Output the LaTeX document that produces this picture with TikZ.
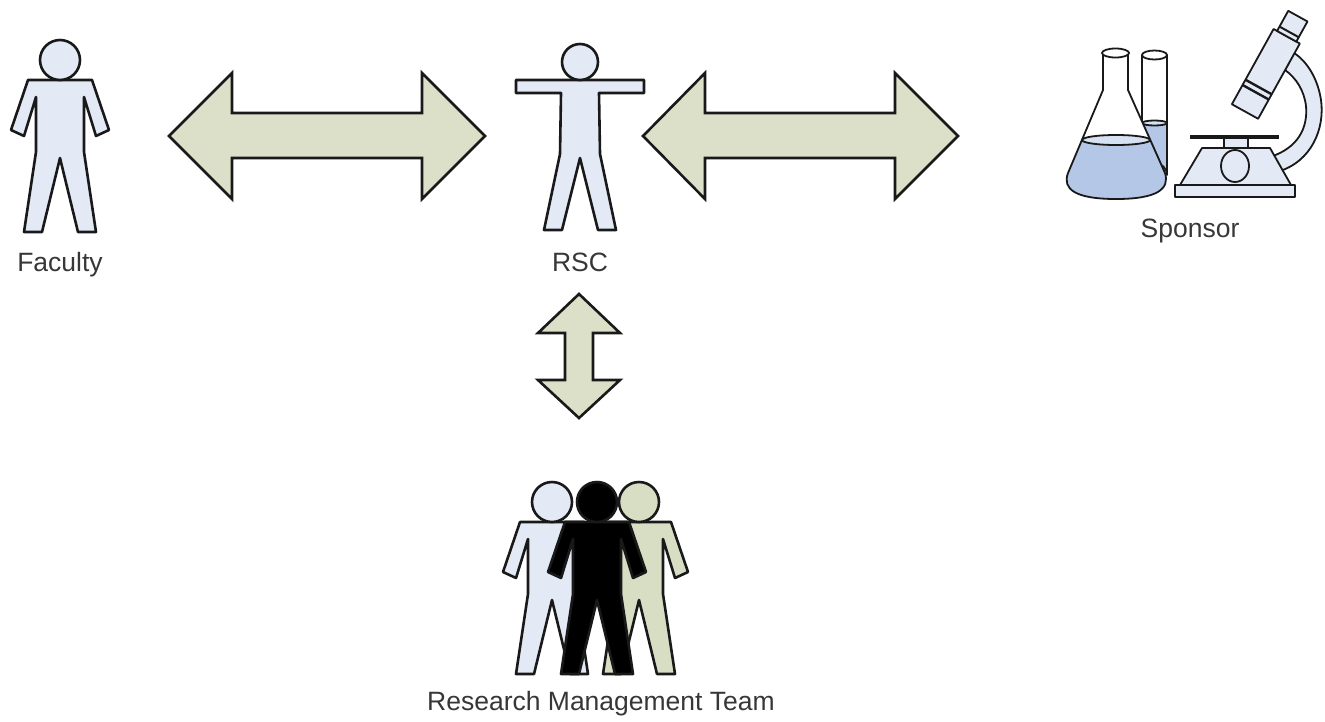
\documentclass[tikz,border=0pt]{standalone}
\usepackage{fontspec}
\setmainfont{Liberation Sans}
\begin{document}
\definecolor{figblue}{RGB}{227,234,246}
\definecolor{figgreen}{RGB}{216,222,196}
\definecolor{arrowfill}{RGB}{220,224,200}
\definecolor{liquid}{RGB}{180,199,230}
\definecolor{liquidtop}{RGB}{214,225,242}
\definecolor{outline}{RGB}{25,25,25}
\definecolor{labeltext}{RGB}{55,55,55}
\begin{tikzpicture}[x=1pt,y=-1pt,
  figline/.style={draw=outline,line width=2.6pt,line join=round},
  blockarrow/.style={draw=outline,fill=arrowfill,line width=2.6pt,line join=miter},
  kit/.style={draw=outline,line width=1.8pt,line join=round},
  label/.style={text=labeltext,font=\fontsize{26.5}{30}\selectfont,anchor=base,inner sep=0pt},
  pics/standing/.style={code={
    \draw[figline,fill=#1] (-32,20) -- (-49,70) -- (-36,76) -- (-24,37) -- (-24,92)
      -- (-36,172) -- (-18,172) -- (0,98) -- (18,172) -- (36,172) -- (24,92)
      -- (24,37) -- (36,76) -- (49,70) -- (32,20) -- cycle;
    \draw[figline,fill=#1] (0,0) circle[radius=20];
  }},
  pics/armsout/.style={code={
    \draw[figline,fill=#1] (-64,18) -- (64,18) -- (64,31) -- (19,31) -- (20,92)
      -- (36,168) -- (18,168) -- (0,96) -- (-18,168) -- (-36,168) -- (-20,92)
      -- (-19,31) -- (-64,31) -- cycle;
    \draw[figline,fill=#1] (0,0) circle[radius=18];
  }}]
\useasboundingbox (0,0) rectangle (1325,721);

% ---- people ----
\coordinate (faculty) at (60,60);
\coordinate (rsc) at (580,62);
\coordinate (teamA) at (552,502);
\coordinate (teamB) at (639,502);
\coordinate (teamC) at (597,502);
\pic at (faculty) {standing=figblue};
\pic at (rsc) {armsout=figblue};
\pic at (teamA) {standing=figblue};
\pic at (teamB) {standing=figgreen};
\pic at (teamC) {standing=black};

% ---- labels ----
\node[label] (facultylabel) at (60,271) {Faculty};
\node[label] (rsclabel) at (580,271) {RSC};
\node[label] (sponsorlabel) at (1190,237) {Sponsor};
\node[label] (teamlabel) at (601,710) {Research Management Team};

% ---- block arrows ----
\draw[blockarrow] (169,136) -- (232,73) -- (232,113) -- (422,113) -- (422,73)
  -- (485,136) -- (422,199) -- (422,158) -- (232,158) -- (232,199) -- cycle;
\draw[blockarrow] (643,136) -- (705,73) -- (705,113) -- (895,113) -- (895,73)
  -- (958,136) -- (895,199) -- (895,158) -- (705,158) -- (705,199) -- cycle;
\draw[blockarrow] (579,294) -- (620,333) -- (593,333) -- (593,380) -- (620,380)
  -- (579,418) -- (538,380) -- (565,380) -- (565,333) -- (538,333) -- cycle;

% ---- sponsor: test tube ----
\fill[white] (1142,55) -- (1142,175) arc[start angle=180,end angle=360,x radius=12.5,y radius=12] -- (1167,55) -- cycle;
\fill[liquid] (1142,123) -- (1142,175) arc[start angle=180,end angle=360,x radius=12.5,y radius=12] -- (1167,123) -- cycle;
\draw[kit] (1142,55) -- (1142,175) arc[start angle=180,end angle=360,x radius=12.5,y radius=12] -- (1167,55);
\draw[kit,fill=liquidtop] (1154.5,123) ellipse[x radius=12.5,y radius=2.5];
\draw[kit,fill=white] (1154.5,55) ellipse[x radius=12.5,y radius=4.5];

% ---- sponsor: flask ----
\def\flaskpath{(1103,53) -- (1103,90) -- (1068,173) .. controls (1062,189) and (1075,199) .. (1116,199)
  .. controls (1157,199) and (1170,189) .. (1165,173) -- (1128,90) -- (1128,53)}
\fill[white] \flaskpath -- cycle;
\begin{scope}
  \clip \flaskpath -- cycle;
  \fill[liquid] (1050,140) rectangle (1180,205);
\end{scope}
\draw[kit,fill=liquidtop] (1116,140) ellipse[x radius=34,y radius=5];
\draw[kit] \flaskpath;
\draw[kit,fill=white] (1115.5,53) ellipse[x radius=13.5,y radius=4.5];

% ---- sponsor: microscope ----
\draw[kit,fill=figblue] (1277,172) .. controls (1312,162) and (1325,128) .. (1321,100)
  .. controls (1318,80) and (1308,62) .. (1294,53)
  -- (1285,70) .. controls (1296,78) and (1304,90) .. (1306,106)
  .. controls (1308,128) and (1298,148) .. (1270,157) -- cycle;
\draw[kit,fill=figblue] (1180,185) -- (1202,148) -- (1270,148) -- (1291,185) -- cycle;
\draw[kit] (1235,166) ellipse[x radius=14,y radius=16];
\draw[kit,fill=figblue] (1175,185) rectangle (1295,197);
\draw[kit,fill=figblue] (1224,138) rectangle (1248,148);
\draw[outline,line width=4pt] (1190,137) -- (1279,137);
\begin{scope}[shift={(1245,111.5)},rotate=-29]
  \draw[kit,fill=figblue] (-15,0) rectangle (15,-86);
  \draw[outline,line width=2.4pt] (-15,-22) -- (15,-22);
  \draw[outline,line width=2.4pt] (-15,-28) -- (15,-28);
  \draw[kit,fill=figblue] (-11,-86) rectangle (11,-109);
  \draw[outline,line width=2pt] (-11,-91) -- (11,-91);
\end{scope}
\end{tikzpicture}
\end{document}
